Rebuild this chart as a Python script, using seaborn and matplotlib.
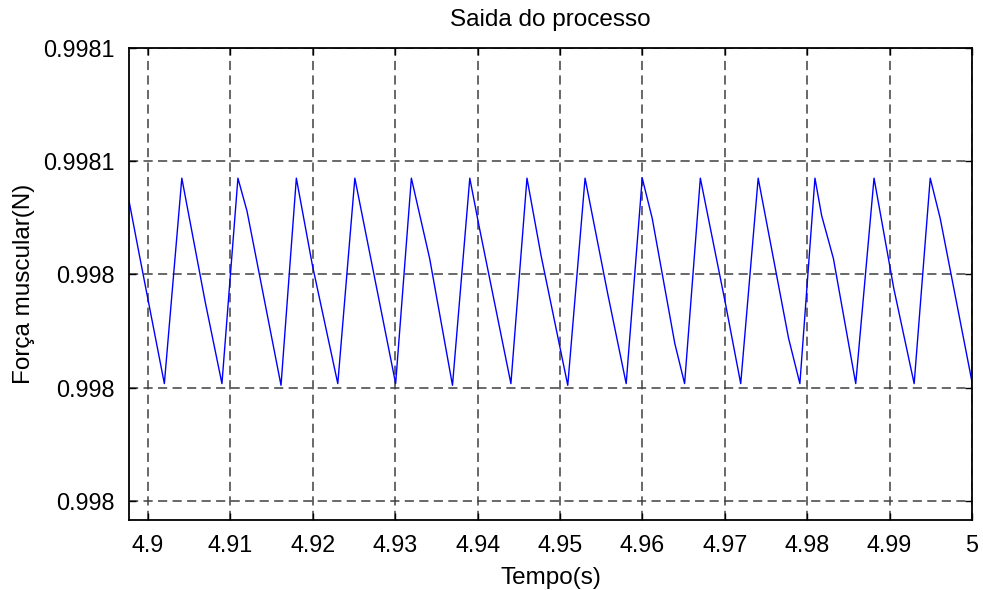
import numpy as np
import pandas as pd
import matplotlib
matplotlib.use('Agg')
import matplotlib.pyplot as plt
import matplotlib.ticker as mticker
import seaborn as sns

# vertices of the process output
tempo = [4.89769, 4.89903, 4.90198, 4.90410, 4.90693, 4.90897, 4.91091, 4.91201,
         4.91614, 4.91800, 4.91995, 4.92303, 4.92510, 4.93005, 4.93196, 4.93418,
         4.93695, 4.93905, 4.94015, 4.94404, 4.94599, 4.94769, 4.95094, 4.95304,
         4.95580, 4.95803, 4.95998, 4.96119, 4.96393, 4.96512, 4.96703, 4.97007,
         4.97193, 4.97405, 4.97774, 4.97911, 4.98094, 4.98175, 4.98318, 4.98589,
         4.98811, 4.99051, 4.99298, 4.99493, 4.99614, 5.00000]
forca = [0.9980530, 0.9980428, 0.9980207, 0.9980570, 0.9980352, 0.9980207, 0.9980570, 0.9980512,
         0.9980204, 0.9980570, 0.9980416, 0.9980207, 0.9980570, 0.9980207, 0.9980570, 0.9980428,
         0.9980204, 0.9980570, 0.9980487, 0.9980207, 0.9980570, 0.9980434, 0.9980204, 0.9980570,
         0.9980365, 0.9980207, 0.9980570, 0.9980499, 0.9980278, 0.9980207, 0.9980570, 0.9980349,
         0.9980207, 0.9980570, 0.9980287, 0.9980207, 0.9980570, 0.9980504, 0.9980428, 0.9980207,
         0.9980570, 0.9980375, 0.9980207, 0.9980570, 0.9980499, 0.9980210]

xticks = [4.90, 4.91, 4.92, 4.93, 4.94, 4.95, 4.96, 4.97, 4.98, 4.99, 5.00]
yticks = [0.99800, 0.99802, 0.99804, 0.99806, 0.99808]

df = pd.DataFrame({'Tempo': tempo, 'Forca': forca})

sns.set_style('white')
plt.rcParams['font.family'] = ['Liberation Sans', 'DejaVu Sans']
plt.rcParams['text.color'] = 'black'
plt.rcParams['axes.labelcolor'] = 'black'

fig = plt.figure(figsize=(9.83, 5.90), dpi=100)
ax = fig.add_axes([129 / 983, 1 - 520 / 590, 843 / 983, 472 / 590])

sns.lineplot(data=df, x='Tempo', y='Forca', ax=ax, color='#0000ff', linewidth=1.0,
             sort=False, estimator=None)

ax.set_xlim(4.89769, 5.0)
ax.set_ylim(0.9979966, 0.99808)
ax.set_xticks(xticks)
ax.set_yticks(yticks)
ax.xaxis.set_major_formatter(mticker.FormatStrFormatter('%g'))
ax.yaxis.set_major_formatter(mticker.FormatStrFormatter('%.4g'))

# MATLAB-like dashed grid and inward ticks on all sides
ax.grid(True, color='#404040', linestyle=(0, (6, 3.5)), linewidth=1.1)
ax.tick_params(direction='in', length=5, width=1, top=True, right=True,
               bottom=True, left=True, labelsize=16.8, colors='black', pad=10)
for s in ax.spines.values():
    s.set_color('black')
    s.set_linewidth(1.3)

ax.set_title('Saida do processo', fontsize=17.5, pad=16)
ax.set_xlabel('Tempo(s)', fontsize=17.5, labelpad=7)
ax.set_ylabel('Força muscular(N)', fontsize=17.5, labelpad=6)

fig.savefig('out.png', dpi=100)
